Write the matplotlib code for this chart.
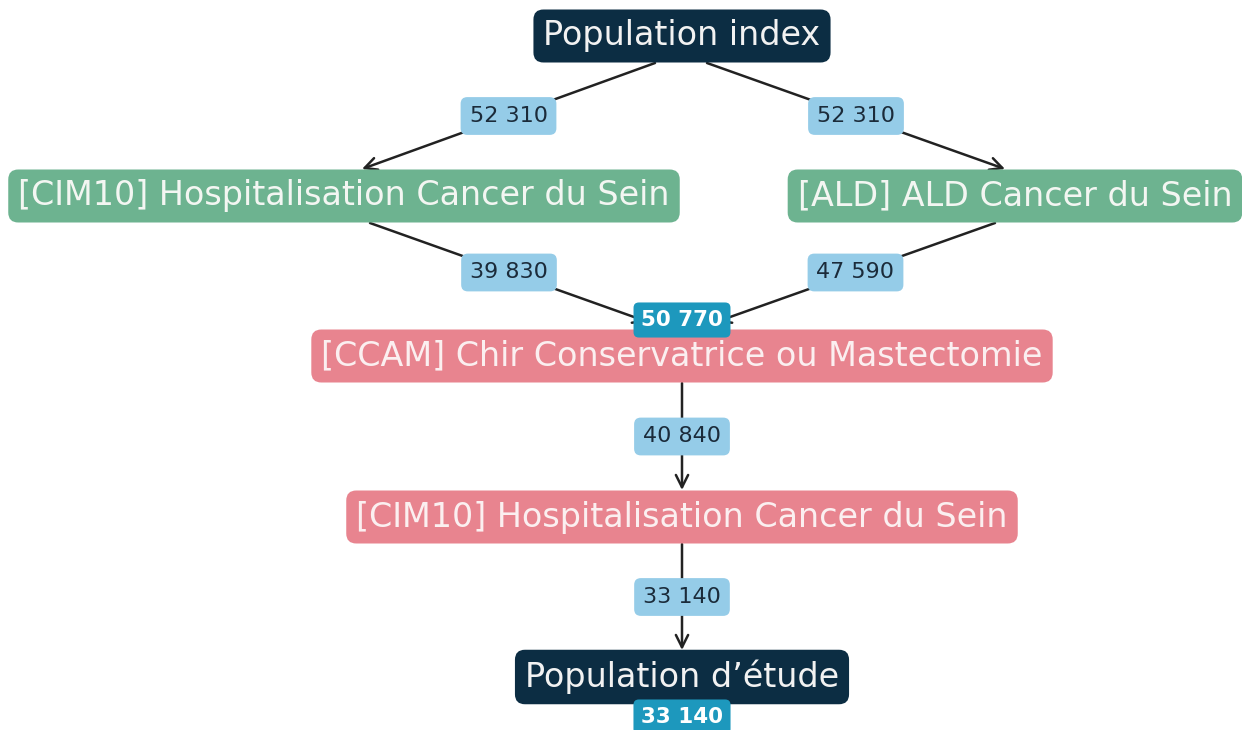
import matplotlib
matplotlib.use("Agg")
import matplotlib.pyplot as plt

# data
node_labels = [
    "Population index",
    "[CIM10] Hospitalisation Cancer du Sein",
    "[ALD] ALD Cancer du Sein",
    "[CCAM] Chir Conservatrice ou Mastectomie",
    "[CIM10] Hospitalisation Cancer du Sein",
    "Population d\u2019étude",
]
node_kinds = ["pop", "green", "green", "pink", "pink", "pop"]
edge_src = [0, 0, 1, 2, 3, 4]
edge_dst = [1, 2, 3, 3, 4, 5]
edge_counts = [52310, 52310, 39830, 47590, 40840, 33140]
node_totals = {3: 50770, 5: 33140}

# layout (pixel space)
node_x = [682, 344, 1015, 682, 682, 682]
node_y = [36, 196, 196, 356, 517, 677]
half_h = 27
src_dx = [-27, 25, 26, -20, 0, 0]
dst_dx = [18, -10, -34, 34, 0, 0]
dst_gap = [0, 0, 7, 7, 0, 0]
total_dy = {3: -36, 5: 40}

colors = {"pop": "#0c2d43", "green": "#6db390", "pink": "#e8848f"}
text_colors = {"pop": "#f2f2f2", "green": "#f3f6f2", "pink": "#fbeff0"}


def fmt(n):
    return f"{n:,}".replace(",", " ")


fig = plt.figure(figsize=(12.42, 7.3), dpi=100)
ax = fig.add_axes([0, 0, 1, 1])
ax.set_xlim(0, 1242)
ax.set_ylim(730, 0)
ax.axis("off")

for i, (s, d) in enumerate(zip(edge_src, edge_dst)):
    x0, y0 = node_x[s] + src_dx[i], node_y[s] + half_h
    x1, y1 = node_x[d] + dst_dx[i], node_y[d] - half_h - dst_gap[i]
    ax.annotate("", xy=(x1, y1), xytext=(x0, y0),
                arrowprops=dict(arrowstyle="->", color="#222222", lw=1.8,
                                mutation_scale=22, shrinkA=0, shrinkB=0),
                zorder=1)
    ax.text((x0 + x1) / 2, (y0 + y1) / 2, fmt(edge_counts[i]),
            ha="center", va="center", fontsize=16, color="#1b2b3a",
            bbox=dict(boxstyle="round,pad=0.4,rounding_size=0.3",
                      fc="#95cce8", ec="none"), zorder=2)

for i, lab in enumerate(node_labels):
    k = node_kinds[i]
    ax.text(node_x[i], node_y[i], lab, ha="center", va="center",
            fontsize=24, color=text_colors[k],
            bbox=dict(boxstyle="round,pad=0.3,rounding_size=0.3",
                      fc=colors[k], ec="none"), zorder=3)

for i, tot in node_totals.items():
    ax.text(node_x[i], node_y[i] + total_dy[i], fmt(tot),
            ha="center", va="center", fontsize=15.5,
            fontweight="bold", color="white",
            bbox=dict(boxstyle="round,pad=0.35,rounding_size=0.25",
                      fc="#1d98bd", ec="none"), zorder=4)

fig.savefig("out.png", dpi=100)
